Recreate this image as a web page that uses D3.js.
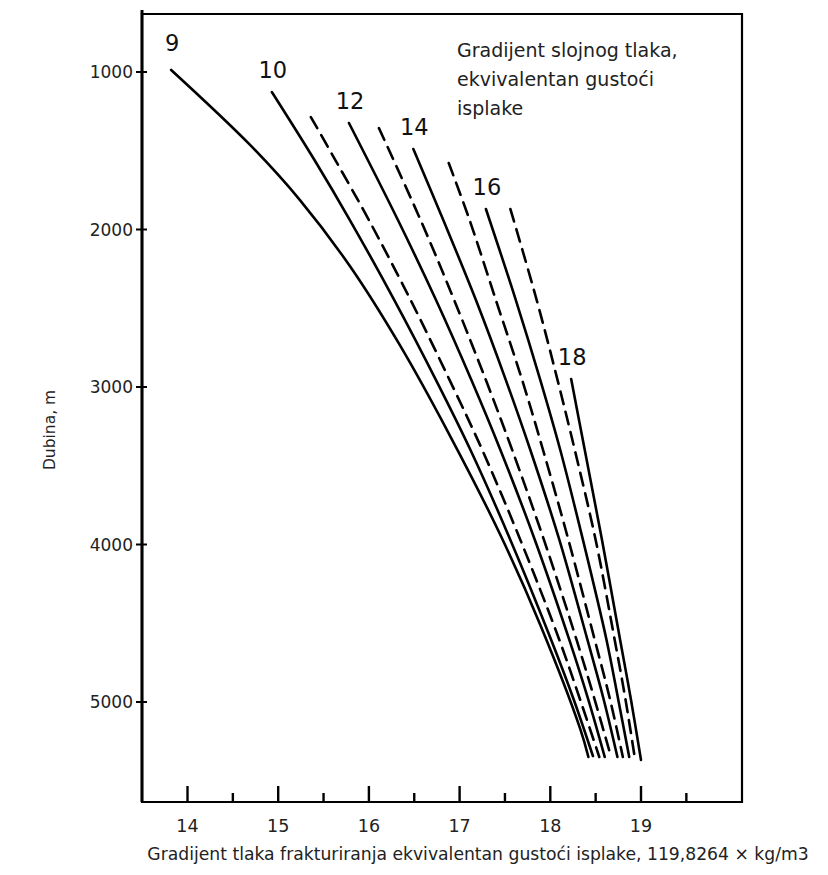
<!DOCTYPE html>
<html>
<head>
<meta charset="utf-8">
<script src="https://cdn.jsdelivr.net/npm/d3@7/dist/d3.min.js"></script>
<style>
  html, body { margin: 0; padding: 0; background: #fff; }
  svg { display: block; font-family: "DejaVu Sans", Verdana, sans-serif; }
</style>
</head>
<body>
<svg id="chart" width="828" height="875"></svg>
<script>
// pore pressure gradient of each curve (equivalent mud weight)
const gradients = [9, 10, 11, 12, 13, 14, 15, 16, 17, 18];
const labelled = [9, 10, 12, 14, 16, 18];

// [fracture gradient, depth m]
const c9 = [[13.82, 987], [14.69, 1463], [15.24, 1813], [15.79, 2232], [16.34, 2733], [16.89, 3305], [17.45, 3940], [17.89, 4511], [18.33, 5171], [18.42, 5349]];
const c10 = [[14.93, 1127], [15.4, 1559], [15.79, 1940], [16.28, 2448], [16.74, 2956], [17.12, 3400], [17.56, 3971], [18.01, 4606], [18.26, 4987], [18.47, 5343]];
const c11 = [[15.36, 1286], [15.63, 1559], [16.0, 1940], [16.46, 2448], [16.89, 2956], [17.25, 3400], [17.67, 3971], [18.1, 4606], [18.33, 4987], [18.54, 5349]];
const c12 = [[15.78, 1324], [16.32, 1940], [16.74, 2448], [17.13, 2956], [17.45, 3400], [17.83, 3971], [18.21, 4606], [18.42, 4987], [18.6, 5349]];
const c13 = [[16.11, 1356], [16.57, 1940], [16.94, 2448], [17.29, 2956], [17.58, 3400], [17.93, 3971], [18.29, 4606], [18.49, 4987], [18.67, 5349]];
const c14 = [[16.49, 1489], [16.82, 1940], [17.18, 2448], [17.51, 2956], [17.78, 3400], [18.1, 3971], [18.41, 4606], [18.59, 4987], [18.74, 5349]];
const c15 = [[16.88, 1578], [17.11, 1940], [17.4, 2448], [17.69, 2956], [17.92, 3400], [18.2, 3971], [18.49, 4606], [18.66, 4987], [18.8, 5349]];
const c16 = [[17.29, 1870], [17.62, 2448], [17.89, 2956], [18.11, 3400], [18.36, 3971], [18.62, 4606], [18.75, 4987], [18.87, 5349]];
const c17 = [[17.56, 1870], [17.85, 2448], [18.08, 2956], [18.27, 3400], [18.5, 3971], [18.71, 4606], [18.83, 4987], [18.93, 5349]];
const c18 = [[18.23, 2949], [18.38, 3400], [18.57, 3971], [18.77, 4606], [18.89, 4987], [19.0, 5368]];
const curves = [c9, c10, c11, c12, c13, c14, c15, c16, c17, c18];

const xMajor = [14, 15, 16, 17, 18, 19];
const xMinor = [14.5, 15.5, 16.5, 17.5, 18.5, 19.5];
const yTicks = [1000, 2000, 3000, 4000, 5000];

const noteLines = ["Gradijent slojnog tlaka,", "ekvivalentan gustoći", "isplake"];
const xTitle = "Gradijent tlaka frakturiranja ekvivalentan gustoći isplake, 119,8264 × kg/m3";
const yTitle = "Dubina, m";

const svg = d3.select("#chart");
const frame = { left: 142, right: 742, top: 14, bottom: 802 };

const x = d3.scaleLinear().domain([14, 19]).range([187.5, 641]);
const y = d3.scaleLinear().domain([1000, 5000]).range([72, 702]);

// frame
svg.append("path")
  .attr("d", `M${frame.left},${frame.top} H${frame.right} V${frame.bottom} H${frame.left} Z`)
  .attr("fill", "none").attr("stroke", "#000").attr("stroke-width", 2.2);
svg.append("line")
  .attr("x1", frame.left).attr("x2", frame.left)
  .attr("y1", frame.top - 4).attr("y2", frame.bottom)
  .attr("stroke", "#000").attr("stroke-width", 3);

// y axis ticks and labels
const yAxis = svg.append("g");
yAxis.selectAll("line").data(yTicks).join("line")
  .attr("x1", frame.left - 6).attr("x2", frame.left + 5)
  .attr("y1", (d) => y(d)).attr("y2", (d) => y(d))
  .attr("stroke", "#000").attr("stroke-width", 2);
yAxis.selectAll("text").data(yTicks).join("text")
  .attr("x", frame.left - 9).attr("y", (d) => y(d) + 6)
  .attr("text-anchor", "end").attr("font-size", 17).attr("fill", "#222")
  .text((d) => d);

// x axis ticks point inwards
const xAxis = svg.append("g");
xAxis.selectAll("line.major").data(xMajor).join("line")
  .attr("class", "major")
  .attr("x1", (d) => x(d)).attr("x2", (d) => x(d))
  .attr("y1", frame.bottom).attr("y2", frame.bottom - 16)
  .attr("stroke", "#000").attr("stroke-width", 2.4);
xAxis.selectAll("line.minor").data(xMinor).join("line")
  .attr("class", "minor")
  .attr("x1", (d) => x(d)).attr("x2", (d) => x(d))
  .attr("y1", frame.bottom).attr("y2", frame.bottom - 9)
  .attr("stroke", "#000").attr("stroke-width", 2.4);
xAxis.selectAll("text").data(xMajor).join("text")
  .attr("x", (d) => x(d)).attr("y", frame.bottom + 30)
  .attr("text-anchor", "middle").attr("font-size", 17.5).attr("fill", "#222")
  .text((d) => d);

svg.append("text")
  .attr("x", 478).attr("y", 860)
  .attr("text-anchor", "middle").attr("font-size", 17.2).attr("fill", "#222")
  .text(xTitle);
svg.append("text")
  .attr("transform", "translate(55,430) rotate(-90)")
  .attr("text-anchor", "middle").attr("font-size", 15.5).attr("fill", "#222")
  .text(yTitle);

// curves
const line = d3.line()
  .x((d) => x(d[0]))
  .y((d) => y(d[1]))
  .curve(d3.curveCatmullRom.alpha(0.5));

const curveLayer = svg.append("g");
curveLayer.selectAll("path").data(curves).join("path")
  .attr("d", line)
  .attr("fill", "none")
  .attr("stroke", "#000")
  .attr("stroke-width", 2.6)
  .attr("stroke-linecap", "round")
  .attr("stroke-dasharray", (d, i) => labelled.includes(gradients[i]) ? null : "13,8");

// curve labels sit above each curve's upper end
curveLayer.selectAll("text").data(curves.filter((d, i) => labelled.includes(gradients[i]))).join("text")
  .attr("x", (d) => x(d[0][0]) + 1)
  .attr("y", (d, i) => y(d[0][1]) - (i === 0 ? 19 : 14))
  .attr("text-anchor", "middle").attr("font-size", 22.5).attr("fill", "#111")
  .text((d, i) => labelled[i]);

// note in the upper right
svg.append("g").selectAll("text").data(noteLines).join("text")
  .attr("x", 457).attr("y", (d, i) => 57 + i * 29)
  .attr("font-size", 19).attr("fill", "#222")
  .text((d) => d);
</script>
</body>
</html>
